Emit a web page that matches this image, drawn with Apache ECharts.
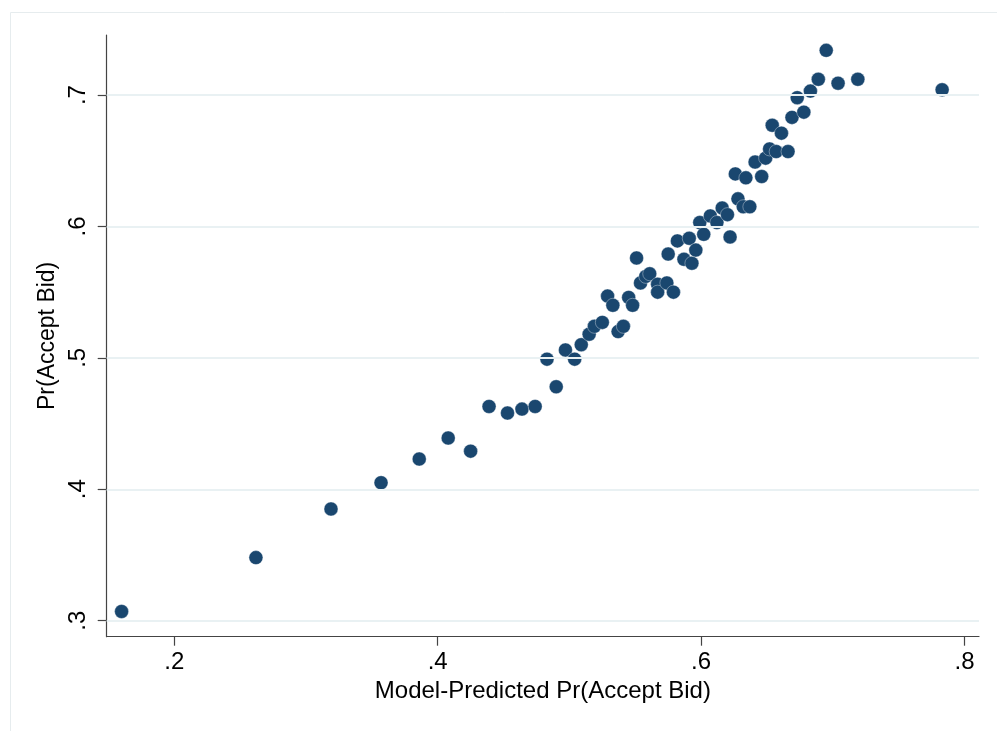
<!DOCTYPE html>
<html>
<head>
<meta charset="utf-8">
<script src="https://cdn.jsdelivr.net/npm/echarts@6/dist/echarts.min.js"></script>
<style>
html,body{margin:0;padding:0;background:#fff;}
#chart{width:997px;height:731px;}
</style>
</head>
<body>
<div id="chart"></div>
<script>
const xTitle = 'Model-Predicted Pr(Accept Bid)';
const yTitle = 'Pr(Accept Bid)';
const xTicks = [0.2, 0.4, 0.6, 0.8];
const yTicks = [0.3, 0.4, 0.5, 0.6, 0.7];
const predicted = [
  0.160, 0.262, 0.319, 0.357, 0.386, 0.408, 0.425, 0.439, 0.453, 0.464,
  0.474, 0.483, 0.490, 0.497, 0.504, 0.509, 0.515, 0.519, 0.525, 0.529,
  0.533, 0.537, 0.541, 0.545, 0.548, 0.551, 0.554, 0.558, 0.561, 0.567,
  0.567, 0.574, 0.575, 0.579, 0.582, 0.587, 0.591, 0.593, 0.596, 0.599,
  0.602, 0.607, 0.612, 0.616, 0.620, 0.622, 0.628, 0.632, 0.637, 0.626,
  0.634, 0.646, 0.641, 0.649, 0.652, 0.657, 0.666, 0.654, 0.661, 0.669,
  0.678, 0.673, 0.683, 0.689, 0.704, 0.719, 0.695, 0.783
];
const observed = [
  0.307, 0.348, 0.385, 0.405, 0.423, 0.439, 0.429, 0.463, 0.458, 0.461,
  0.463, 0.499, 0.478, 0.506, 0.499, 0.510, 0.518, 0.524, 0.527, 0.547,
  0.540, 0.520, 0.524, 0.546, 0.540, 0.576, 0.557, 0.562, 0.564, 0.556,
  0.550, 0.557, 0.579, 0.550, 0.589, 0.575, 0.591, 0.572, 0.582, 0.603,
  0.594, 0.608, 0.603, 0.614, 0.609, 0.592, 0.621, 0.615, 0.615, 0.640,
  0.637, 0.638, 0.649, 0.652, 0.659, 0.657, 0.657, 0.677, 0.671, 0.683,
  0.687, 0.698, 0.703, 0.712, 0.709, 0.712, 0.734, 0.704
];

const points = predicted.map((x, i) => [x, observed[i]]);
const fmt = v => Number(v).toFixed(1).replace(/^0/, '');
const FONT = 'Liberation Sans, Arial, Helvetica, sans-serif';

const chart = echarts.init(document.getElementById('chart'), null, {renderer: 'canvas'});
chart.setOption({
  animation: false,
  backgroundColor: '#ffffff',
  graphic: [{
    type: 'rect',
    left: 8, top: 10,
    shape: {width: 1000, height: 730},
    style: {fill: 'none', stroke: '#e6ecee', lineWidth: 1},
    silent: true,
    z: -10
  }],
  grid: {left: 106.7, right: 18, top: 35, bottom: 94.3},
  xAxis: {
    type: 'value',
    min: 0.1487, max: 0.811,
    name: xTitle,
    nameLocation: 'middle',
    nameGap: 42,
    nameTextStyle: {fontFamily: FONT, fontSize: 24, color: '#000'},
    axisLine: {show: true, onZero: false, lineStyle: {color: '#444', width: 1.2}},
    axisTick: {show: true, inside: false, length: 9, customValues: xTicks, lineStyle: {color: '#444', width: 1.2}},
    axisLabel: {customValues: xTicks, formatter: fmt, fontFamily: FONT, fontSize: 24, color: '#000', margin: 14},
    splitLine: {show: false}
  },
  yAxis: {
    type: 'value',
    min: 0.2878, max: 0.7457,
    name: yTitle,
    nameLocation: 'middle',
    nameGap: 48,
    nameTextStyle: {fontFamily: FONT, fontSize: 23, color: '#000'},
    axisLine: {show: true, onZero: false, lineStyle: {color: '#444', width: 1.2}},
    axisTick: {show: true, inside: false, length: 9, customValues: yTicks, lineStyle: {color: '#444', width: 1.2}},
    axisLabel: {customValues: yTicks, formatter: fmt, rotate: 90, fontFamily: FONT, fontSize: 24, color: '#000', margin: 16},
    splitLine: {show: false}
  },
  series: [
    {
      type: 'scatter',
      data: [],
      z: 1,
      silent: true,
      markLine: {
        silent: true,
        symbol: ['none', 'none'],
        label: {show: false},
        lineStyle: {color: '#e9f1f3', width: 2, type: 'solid'},
        data: yTicks.map(v => ({yAxis: v}))
      }
    },
    {
      type: 'scatter',
      data: points,
      z: 3,
      symbol: 'circle',
      symbolSize: 14,
      itemStyle: {color: '#1a476f', borderColor: 'rgba(255,255,255,0.6)', borderWidth: 0.6, opacity: 1}
    }
  ]
});
</script>
</body>
</html>
